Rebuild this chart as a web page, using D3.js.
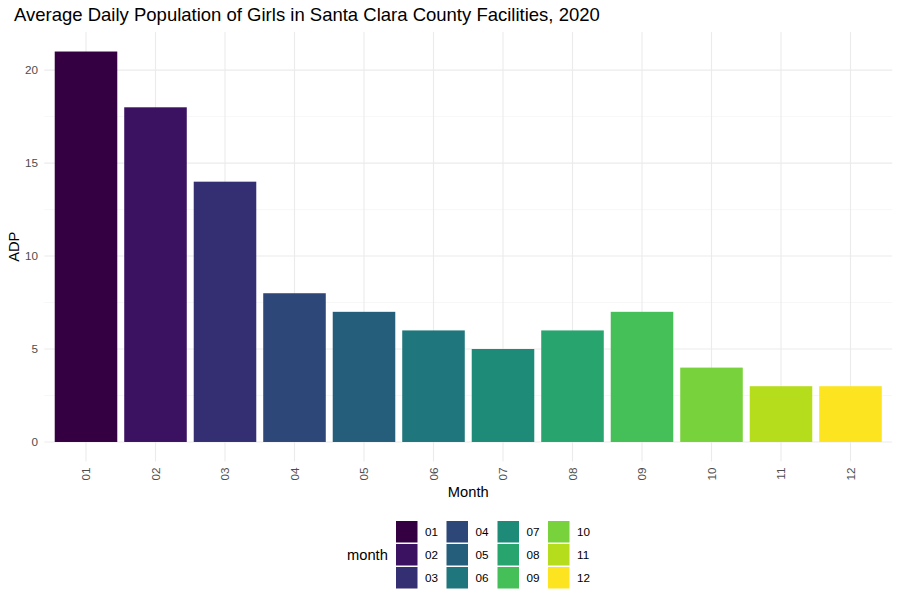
<!DOCTYPE html>
<html>
<head>
<meta charset="utf-8">
<script src="https://cdn.jsdelivr.net/npm/d3@7"></script>
<style>
  body { margin: 0; background: #fff; }
  text { font-family: "Liberation Sans", Arial, Helvetica, sans-serif; }
</style>
</head>
<body>
<svg id="chart" width="900" height="604"></svg>
<script>
const months = ["01","02","03","04","05","06","07","08","09","10","11","12"];
const adp = [21, 18, 14, 8, 7, 6, 5, 6, 7, 4, 3, 3];
const fillColors = ["#340042","#3a1261","#342f72","#2c4778","#245e7b","#1f767c","#1e8a78","#28a46e","#45bf57","#78d23b","#b5dd1c","#fde420"];
const yTicks = [0, 5, 10, 15, 20];
const yMinor = [2.5, 7.5, 12.5, 17.5];
const titleText = "Average Daily Population of Girls in Santa Clara County Facilities, 2020";

const svg = d3.select("#chart");
const W = 900, H = 604;
svg.append("rect").attr("width", W).attr("height", H).attr("fill", "#fff");

const panel = { left: 44.3, right: 892.2, top: 32, bottom: 461.5 };

const x = d3.scaleBand().domain(months)
  .range([panel.left, panel.right]).paddingInner(0.1).paddingOuter(0.15);
const xc = m => x(m) + x.bandwidth() / 2;
const barW = x.bandwidth();

const y = d3.scaleLinear().domain([-1.05, 22.05]).range([panel.bottom, panel.top]);

const color = d3.scaleOrdinal().domain(months).range(fillColors);

const g = svg.append("g");
// minor grid
g.selectAll(".ymin").data(yMinor).join("line")
  .attr("x1", panel.left).attr("x2", panel.right)
  .attr("y1", d => y(d)).attr("y2", d => y(d))
  .attr("stroke", "#F2F2F2").attr("stroke-width", 0.6);
// major grid
g.selectAll(".ymaj").data(yTicks).join("line")
  .attr("x1", panel.left).attr("x2", panel.right)
  .attr("y1", d => y(d)).attr("y2", d => y(d))
  .attr("stroke", "#EBEBEB").attr("stroke-width", 1.1);
g.selectAll(".xmaj").data(months).join("line")
  .attr("x1", d => xc(d)).attr("x2", d => xc(d))
  .attr("y1", panel.top).attr("y2", panel.bottom)
  .attr("stroke", "#EBEBEB").attr("stroke-width", 1.1);

// bars
g.selectAll(".bar").data(months).join("rect")
  .attr("x", d => x(d))
  .attr("width", barW)
  .attr("y", (d, i) => y(adp[i]))
  .attr("height", (d, i) => y(0) - y(adp[i]))
  .attr("fill", d => color(d));

// y tick labels
g.selectAll(".ytl").data(yTicks).join("text")
  .attr("x", 38).attr("y", d => y(d)).attr("dy", "0.35em")
  .attr("text-anchor", "end").attr("font-size", 11.7).attr("fill", "#4D4D4D")
  .text(d => d);

// x tick labels (rotated)
g.selectAll(".xtl").data(months).join("text")
  .attr("transform", d => `translate(${xc(d)},${panel.bottom + 6}) rotate(-90)`)
  .attr("dy", "0.35em")
  .attr("text-anchor", "end").attr("font-size", 11.7).attr("fill", "#4D4D4D")
  .text(d => d);

// axis titles
svg.append("text").attr("x", (panel.left + panel.right) / 2).attr("y", 497)
  .attr("text-anchor", "middle").attr("font-size", 14.7).attr("fill", "#000").text("Month");
svg.append("text").attr("transform", `translate(19,${(panel.top + panel.bottom) / 2}) rotate(-90)`)
  .attr("text-anchor", "middle").attr("font-size", 14.7).attr("fill", "#000").text("ADP");

// title
svg.append("text").attr("x", 14).attr("y", 21)
  .attr("font-size", 18.5).attr("fill", "#000").text(titleText);

// legend
const lg = svg.append("g");
lg.append("text").attr("x", 347).attr("y", 555).attr("dy", "0.35em")
  .attr("font-size", 14.7).attr("fill", "#000").text("month");
const colX = [396, 446.5, 497.5, 548];
const rowY = [521, 544, 567];
months.forEach((m, i) => {
  const c = Math.floor(i / 3), r = i % 3;
  lg.append("rect").attr("x", colX[c]).attr("y", rowY[r])
    .attr("width", 21.5).attr("height", 21.5).attr("fill", color(m));
  lg.append("text").attr("x", colX[c] + 29).attr("y", rowY[r] + 11).attr("dy", "0.35em")
    .attr("font-size", 11.7).attr("fill", "#000").text(m);
});
</script>
</body>
</html>
